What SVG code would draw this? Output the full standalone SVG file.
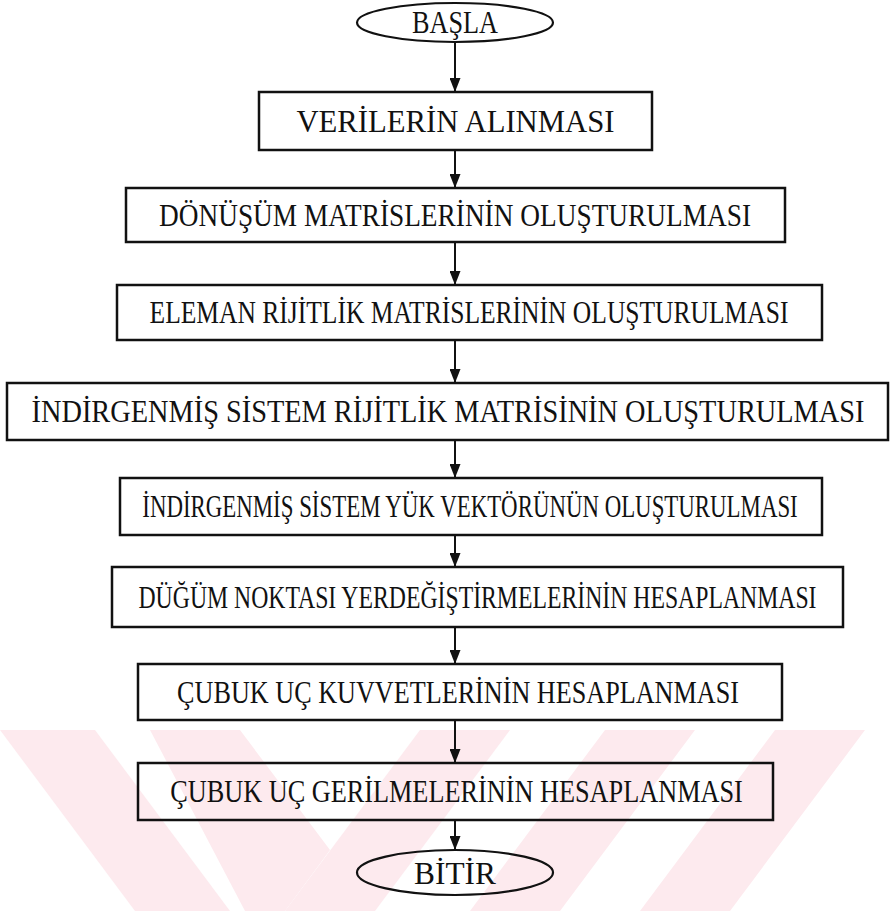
<svg xmlns="http://www.w3.org/2000/svg" width="890" height="911" viewBox="0 0 890 911">
  <defs>
    <style>
      .box { fill: none; stroke: #111; stroke-width: 2.5; }
      .term { fill: none; stroke: #111; stroke-width: 2.2; }
      .lbl { font-family: "Liberation Serif", "Times New Roman", serif; font-size: 32px; fill: #111; text-anchor: middle; }
      .link { stroke: #111; stroke-width: 2; fill: none; marker-end: url(#head); }
      .wm { fill: #fdeaee; }
    </style>
    <marker id="head" markerUnits="userSpaceOnUse" markerWidth="14" markerHeight="11" viewBox="0 0 14 11" refX="14" refY="5.5" orient="auto">
      <path d="M0,0 L14,5.5 L0,11 Z" fill="#111"/>
    </marker>
  </defs>

  <rect width="890" height="911" fill="#ffffff"/>

  <!-- faint diagonal watermark bands in the lower part -->
  <g id="watermark">
    <polygon class="wm" points="0,730 95,730 230,911 135,911"/>
    <polygon class="wm" points="150,730 240,730 330,850 285,911 245,911"/>
    <polygon class="wm" points="285,911 420,730 510,730 375,911"/>
    <polygon class="wm" points="470,911 605,730 695,730 560,911"/>
    <polygon class="wm" points="640,911 775,730 865,730 730,911"/>
  </g>

  <g id="connectors">
    <line class="link" x1="455" y1="42" x2="455" y2="92"/>
    <line class="link" x1="455" y1="150" x2="455" y2="188"/>
    <line class="link" x1="455" y1="242" x2="455" y2="285"/>
    <line class="link" x1="455" y1="340" x2="455" y2="383"/>
    <line class="link" x1="455" y1="440" x2="455" y2="478"/>
    <line class="link" x1="455" y1="535" x2="455" y2="567"/>
    <line class="link" x1="455" y1="627" x2="455" y2="664"/>
    <line class="link" x1="455" y1="720" x2="455" y2="763"/>
    <line class="link" x1="455" y1="820" x2="455" y2="850"/>
  </g>

  <!-- labels are Times-style text, narrowed horizontally with scale(sx,1) -->
  <g id="start">
    <ellipse class="term" cx="455" cy="22.5" rx="98" ry="19.5"/>
    <text class="lbl" transform="translate(455 33) scale(0.82 1)">BAŞLA</text>
  </g>

  <g id="step1">
    <rect class="box" x="259" y="92" width="393" height="58"/>
    <text class="lbl" transform="translate(455.5 132) scale(0.96 1)">VERİLERİN ALINMASI</text>
  </g>

  <g id="step2">
    <rect class="box" x="126" y="188" width="659" height="54"/>
    <text class="lbl" transform="translate(455 226) scale(0.854 1)">DÖNÜŞÜM MATRİSLERİNİN OLUŞTURULMASI</text>
  </g>

  <g id="step3">
    <rect class="box" x="117" y="285" width="705" height="55"/>
    <text class="lbl" transform="translate(469 323) scale(0.798 1)">ELEMAN RİJİTLİK MATRİSLERİNİN OLUŞTURULMASI</text>
  </g>

  <g id="step4">
    <rect class="box" x="7" y="383" width="881" height="57"/>
    <text class="lbl" transform="translate(448 422) scale(0.886 1)">İNDİRGENMİŞ SİSTEM RİJİTLİK MATRİSİNİN OLUŞTURULMASI</text>
  </g>

  <g id="step5">
    <rect class="box" x="120" y="478" width="702" height="57"/>
    <text class="lbl" transform="translate(470 517) scale(0.715 1)">İNDİRGENMİŞ SİSTEM YÜK VEKTÖRÜNÜN OLUŞTURULMASI</text>
  </g>

  <g id="step6">
    <rect class="box" x="112" y="567" width="731" height="60"/>
    <text class="lbl" transform="translate(477.5 608) scale(0.742 1)">DÜĞÜM NOKTASI YERDEĞİŞTİRMELERİNİN HESAPLANMASI</text>
  </g>

  <g id="step7">
    <rect class="box" x="138" y="664" width="644" height="56"/>
    <text class="lbl" transform="translate(458 703) scale(0.818 1)">ÇUBUK UÇ KUVVETLERİNİN HESAPLANMASI</text>
  </g>

  <g id="step8">
    <rect class="box" x="138" y="763" width="635" height="57"/>
    <text class="lbl" transform="translate(456.5 802) scale(0.821 1)">ÇUBUK UÇ GERİLMELERİNİN HESAPLANMASI</text>
  </g>

  <g id="end">
    <ellipse class="term" cx="455" cy="872.5" rx="98" ry="22.5"/>
    <text class="lbl" transform="translate(455 884) scale(0.98 1)">BİTİR</text>
  </g>
</svg>
